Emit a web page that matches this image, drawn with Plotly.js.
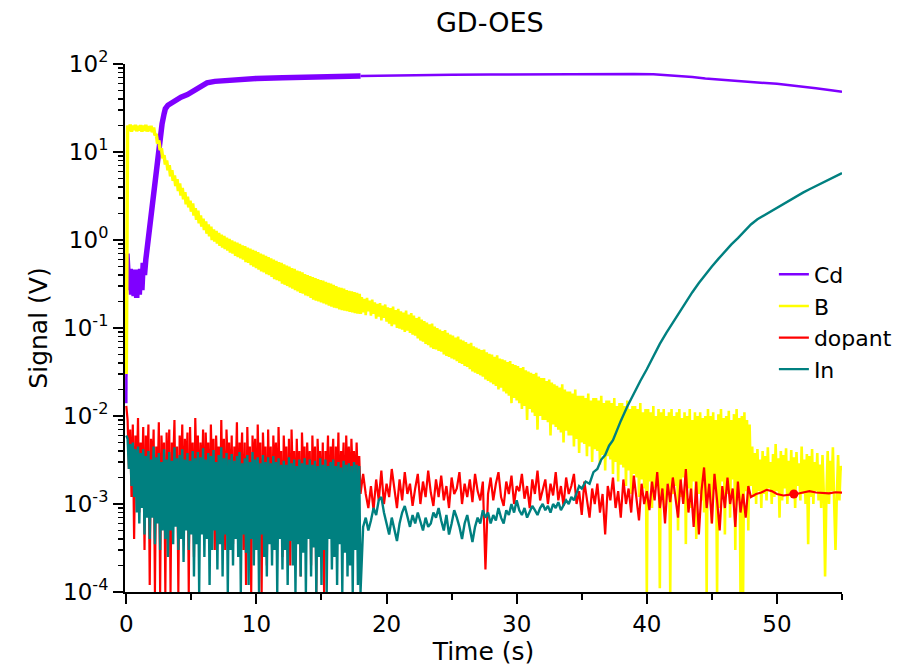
<!DOCTYPE html>
<html>
<head>
<meta charset="utf-8">
<script src="https://cdn.plot.ly/plotly-3.0.1.min.js"></script>
<style>html,body{margin:0;padding:0;background:#fff;}#chart{width:897px;height:671px;}</style>
</head>
<body>
<div id="chart"></div>
<script>
// ---------- sampling times (s) ----------
// fine grid, 0.1 s
const fineT = [0.1,0.2,0.3,0.4,0.5,0.6,0.7,0.8,0.9,1.0,
1.1,1.2,1.3,1.4,1.5,1.6,1.7,1.8,1.9,2.0,
2.1,2.2,2.3,2.4,2.5,2.6,2.7,2.8,2.9,3.0,
3.1,3.2,3.3,3.4,3.5,3.6,3.7,3.8,3.9,4.0,
4.1,4.2,4.3,4.4,4.5,4.6,4.7,4.8,4.9,5.0,
5.1,5.2,5.3,5.4,5.5,5.6,5.7,5.8,5.9,6.0,
6.1,6.2,6.3,6.4,6.5,6.6,6.7,6.8,6.9,7.0,
7.1,7.2,7.3,7.4,7.5,7.6,7.7,7.8,7.9,8.0,
8.1,8.2,8.3,8.4,8.5,8.6,8.7,8.8,8.9,9.0,
9.1,9.2,9.3,9.4,9.5,9.6,9.7,9.8,9.9,10.0,
10.1,10.2,10.3,10.4,10.5,10.6,10.7,10.8,10.9,11.0,
11.1,11.2,11.3,11.4,11.5,11.6,11.7,11.8,11.9,12.0,
12.1,12.2,12.3,12.4,12.5,12.6,12.7,12.8,12.9,13.0,
13.1,13.2,13.3,13.4,13.5,13.6,13.7,13.8,13.9,14.0,
14.1,14.2,14.3,14.4,14.5,14.6,14.7,14.8,14.9,15.0,
15.1,15.2,15.3,15.4,15.5,15.6,15.7,15.8,15.9,16.0,
16.1,16.2,16.3,16.4,16.5,16.6,16.7,16.8,16.9,17.0,
17.1,17.2,17.3,17.4,17.5,17.6,17.7,17.8,17.9,18.0,
18.1,18.2,18.3,18.4,18.5,18.6,18.7,18.8,18.9,19.0,
19.1,19.2,19.3,19.4,19.5,19.6,19.7,19.8,19.9,20.0,
20.1,20.2,20.3,20.4,20.5,20.6,20.7,20.8,20.9,21.0,
21.1,21.2,21.3,21.4,21.5,21.6,21.7,21.8,21.9,22.0,
22.1,22.2,22.3,22.4,22.5,22.6,22.7,22.8,22.9,23.0,
23.1,23.2,23.3,23.4,23.5,23.6,23.7,23.8,23.9,24.0,
24.1,24.2,24.3,24.4,24.5,24.6,24.7,24.8,24.9,25.0,
25.1,25.2,25.3,25.4,25.5,25.6,25.7,25.8,25.9,26.0,
26.1,26.2,26.3,26.4,26.5,26.6,26.7,26.8,26.9,27.0,
27.1,27.2,27.3,27.4,27.5,27.6,27.7,27.8,27.9,28.0,
28.1,28.2,28.3,28.4,28.5,28.6,28.7,28.8,28.9,29.0,
29.1,29.2,29.3,29.4,29.5,29.6,29.7,29.8,29.9,30.0,
30.1,30.2,30.3,30.4,30.5,30.6,30.7,30.8,30.9,31.0,
31.1,31.2,31.3,31.4,31.5,31.6,31.7,31.8,31.9,32.0,
32.1,32.2,32.3,32.4,32.5,32.6,32.7,32.8,32.9,33.0,
33.1,33.2,33.3,33.4,33.5,33.6,33.7,33.8,33.9,34.0,
34.1,34.2,34.3,34.4,34.5,34.6,34.7,34.8,34.9,35.0,
35.1,35.2,35.3,35.4,35.5,35.6,35.7,35.8,35.9,36.0,
36.1,36.2,36.3,36.4,36.5,36.6,36.7,36.8,36.9,37.0,
37.1,37.2,37.3,37.4,37.5,37.6,37.7,37.8,37.9,38.0,
38.1,38.2,38.3,38.4,38.5,38.6,38.7,38.8,38.9,39.0,
39.1,39.2,39.3,39.4,39.5,39.6,39.7,39.8,39.9,40.0,
40.1,40.2,40.3,40.4,40.5,40.6,40.7,40.8,40.9,41.0,
41.1,41.2,41.3,41.4,41.5,41.6,41.7,41.8,41.9,42.0,
42.1,42.2,42.3,42.4,42.5,42.6,42.7,42.8,42.9,43.0,
43.1,43.2,43.3,43.4,43.5,43.6,43.7,43.8,43.9,44.0,
44.1,44.2,44.3,44.4,44.5,44.6,44.7,44.8,44.9,45.0,
45.1,45.2,45.3,45.4,45.5,45.6,45.7,45.8,45.9,46.0,
46.1,46.2,46.3,46.4,46.5,46.6,46.7,46.8,46.9,47.0,
47.1,47.2,47.3,47.4,47.5,47.6,47.7,47.8,47.9,48.0,
48.1,48.2,48.3,48.4,48.5,48.6,48.7,48.8,48.9,49.0,
49.1,49.2,49.3,49.4,49.5,49.6,49.7,49.8,49.9,50.0,
50.1,50.2,50.3,50.4,50.5,50.6,50.7,50.8,50.9,51.0,
51.1,51.2,51.3,51.4,51.5,51.6,51.7,51.8,51.9,52.0,
52.1,52.2,52.3,52.4,52.5,52.6,52.7,52.8,52.9,53.0,
53.1,53.2,53.3,53.4,53.5,53.6,53.7,53.8,53.9,54.0,
54.1,54.2,54.3,54.4,54.5,54.6,54.7,54.8,54.9,55.0];

// coarse grid, 0.2 s (18.2 - 48.0)
const midT = [18.2,18.4,18.6,18.8,19.0,19.2,19.4,19.6,19.8,20.0,
20.2,20.4,20.6,20.8,21.0,21.2,21.4,21.6,21.8,22.0,
22.2,22.4,22.6,22.8,23.0,23.2,23.4,23.6,23.8,24.0,
24.2,24.4,24.6,24.8,25.0,25.2,25.4,25.6,25.8,26.0,
26.2,26.4,26.6,26.8,27.0,27.2,27.4,27.6,27.8,28.0,
28.2,28.4,28.6,28.8,29.0,29.2,29.4,29.6,29.8,30.0,
30.2,30.4,30.6,30.8,31.0,31.2,31.4,31.6,31.8,32.0,
32.2,32.4,32.6,32.8,33.0,33.2,33.4,33.6,33.8,34.0,
34.2,34.4,34.6,34.8,35.0,35.2,35.4,35.6,35.8,36.0,
36.2,36.4,36.6,36.8,37.0,37.2,37.4,37.6,37.8,38.0,
38.2,38.4,38.6,38.8,39.0,39.2,39.4,39.6,39.8,40.0,
40.2,40.4,40.6,40.8,41.0,41.2,41.4,41.6,41.8,42.0,
42.2,42.4,42.6,42.8,43.0,43.2,43.4,43.6,43.8,44.0,
44.2,44.4,44.6,44.8,45.0,45.2,45.4,45.6,45.8,46.0,
46.2,46.4,46.6,46.8,47.0,47.2,47.4,47.6,47.8,48.0];

// ---------- Cd (V) ----------
const cdStartT = [0, 0.05];
const cdStartV = [0.014, 0.7];
const cdDenseT = [0.05,0.1,0.2,0.3,0.4,0.5,0.6,0.7,0.8,0.9,1.0,1.1,1.2,1.3,1.4,1.5,1.6,1.7,1.8,1.9,2.0,2.1,2.2,2.3,2.45,2.6,2.75,2.9,3.0,3.2,3.5,3.8,4.2,4.7,5.2,5.7,6.2,6.8,7.5,8.5,10,12,14,16,18];
const cdDenseV = [0.7,0.55,0.27,0.47,0.24,0.46,0.23,0.45,0.22,0.46,0.24,0.47,0.27,0.55,0.4,0.6,0.8,1.05,1.4,2.0,2.8,3.8,5.0,6.8,10,15,21,27,31,34,36.5,39,42,45,50,56,61,63.5,65,66.5,68.5,70,71,72,73];
const cdLateT = [18,19,20,22,25,28,31,34,37,39,40.5,41.5,42.5,43.5,44.5,45.5,46.5,47.5,48.5,50,51.5,53,54.3,55];
const cdLateV = [73,73.5,74,74.8,75.5,76,76.5,77,77.3,77.2,76.5,75,73,71,68.5,66.5,64.8,63.3,61.8,59.5,56.5,53,50,48.3];

// ---------- B ----------
const bStartT = [0];
const bStartV = [0.03];
// 0.1 - 18.0 s (V)
const bDenseV = [20,17.5,20.5,17,20,17.8,20.3,17.2,19.8,17.5,
20.2,17,19.9,17.4,20.4,17.1,19.6,17.3,19.8,16.8,
19,15.5,16,12.5,13.5,10.5,11,8.5,9.2,7.2,
8,6.2,7.1,5.3,6.2,4.7,5.4,4.1,4.9,3.6,
4.4,3.2,3.9,2.9,3.5,2.55,3.1,2.35,2.8,2.1,
2.6,1.9,2.3,1.7,2.15,1.55,1.9,1.42,1.75,1.3,
1.62,1.18,1.5,1.1,1.42,1.0,1.32,0.96,1.27,0.91,
1.2,0.86,1.15,0.82,1.11,0.79,1.06,0.76,1.03,0.72,
0.99,0.7,0.96,0.66,0.93,0.64,0.9,0.62,0.87,0.6,
0.85,0.56,0.82,0.55,0.8,0.52,0.77,0.5,0.75,0.48,
0.73,0.46,0.7,0.44,0.68,0.43,0.66,0.41,0.64,0.4,
0.62,0.38,0.6,0.36,0.58,0.35,0.56,0.34,0.55,0.32,
0.53,0.31,0.51,0.3,0.5,0.29,0.48,0.28,0.47,0.27,
0.45,0.26,0.44,0.25,0.43,0.245,0.41,0.235,0.4,0.23,
0.39,0.22,0.38,0.21,0.37,0.205,0.36,0.2,0.35,0.195,
0.345,0.19,0.335,0.185,0.325,0.18,0.32,0.175,0.31,0.17,
0.3,0.168,0.29,0.163,0.285,0.16,0.28,0.157,0.27,0.155,
0.265,0.152,0.26,0.15,0.255,0.148,0.25,0.146,0.245,0.145];
// 18.1 - 48.0 s (mV)
const bMid_mV = [225,150,215,140,220,155,205,138,210,145,
195,128,188,135,192,122,180,130,185,118,
172,112,168,105,175,110,160,100,165,98,
155,96,150,90,158,93,142,88,148,84,
138,82,130,76,134,72,125,70,120,66,
115,64,110,60,112,58,104,57,100,55,
96,54,92,50,95,48,88,47,84,45,
82,44,78,42,80,40,74,39,72,37,
69,36,66,34,68,32,62,31,60,30,
58,29,56,28,57,26,53,25,51,24,
50,23,47,22,49,20,45,21,44,19,
43,18,41,17,42,14,39,16,38,15,
37,14,35,12,36,13,33,9,32,12,
31,11,30,10,31,7,28,10,27,9,
27,9,25,8.5,26,6,24,8,23,7.5,
22,7,21,6.5,23,5,20,6.8,19,6,
19,6,18,4.5,20,5.5,17,3.8,17,5,
17,4.8,16,3.5,18,4.5,15,3,16,4.2,
16,4,15,2.8,17,3.6,14,2.4,15,3.5,
15,3.2,14,2.2,16,3,13,1.8,14,2.8,
14,2.6,13,1.6,15,2.4,12,1.3,13,2.2,
13,2,12,1.2,14,1.9,11,1.5,12,0.1,
12,1.8,11,0.9,13,1.5,10,1.9,12,0.11,
11,1.4,12,0.8,10,1.7,11,0.1,12,1.3,
10,1.6,11,0.5,12,1.2,9.5,2.0,11,0.35,
10,1.5,12,0.9,9,1.8,11,0.4,10,1.3,
11,1.1,9.5,0.8,10,0.1,12,1.7,10,0.6,
11,1.5,9,0.1,10.5,0.9,12,1.8,9.5,0.45,
10,1.3,11.5,0.7,9,1.9,10.5,0.3,12,1.1,
9.5,0.1,10,0.1,11,1.4,9,0.5,8,1.6];
// 48.1 - 55.0 s (mV)
const bTail_mV = [4.5,1.2,3.8,1.0,4.2,1.4,3.2,0.9,4.0,1.3,
3.5,1.1,4.4,1.5,3.0,1.0,3.7,1.2,4.8,1.4,
3.3,0.7,4.0,1.1,3.6,1.5,4.3,1.0,3.1,1.3,
4.1,1.2,3.4,0.9,3.9,1.6,2.9,1.1,4.5,1.3,
3.2,1.0,3.7,0.35,3.5,1.2,4.2,1.0,3.0,1.4,
3.8,1.1,2.8,0.9,3.6,1.3,0.15,1.2,4.0,1.0,
3.1,1.4,4.4,1.0,0.3,1.2,3.6,1.1,2.7,2.4];

// ---------- dopant ----------
const dopStart_mV = [13];
// 0.1 - 18.0 s (mV)
const dopDense_mV = [9,2.5,7,1.2,8,0.4,6,2,9.5,0.8,
5,1.5,7.5,0.3,6,2.2,8,0.12,5.5,1.8,
7,0.1,4.5,1.4,8.5,0.1,6,2.4,5,0.1,
6.5,1.1,7,0.1,5,2.6,9,0.6,4.5,0.1,
6,1.9,8,0.5,5.5,2.3,6.5,0.1,7.5,1.6,
5,0.25,9.5,2.1,6,0.8,5,1.3,7,0.4,
6.5,2.5,5,0.4,8,1.7,5.5,0.3,6,2.2,
4.5,0.7,9,1.2,5.5,0.3,7,2.6,5,0.9,
6,0.35,4.5,1.8,8.5,0.5,5,2.4,6.5,0.3,
5,0.12,7.5,1.5,4.5,0.1,6,2.2,5.5,0.4,
8,1.6,5,0.1,6.5,2.3,4.5,0.2,7,1.1,
4.5,0.3,6,2.0,5,0.6,7.5,1.4,4,0.25,
6,2.1,4.5,0.3,5.5,0.2,7,1.8,4,0.5,
5.5,1.3,4,0.15,6.5,2.2,4.5,0.35,5,1.7,
4,0.2,6,1.5,4.5,0.1,5.5,2.0,4,0.7,
5,0.1,4,1.9,6,0.45,4.5,2.3,5.5,0.25,
4.5,1.4,6.5,0.6,4,2.1,5,0.3,6,1.6,
4.5,0.9,5.5,2.0,4,1.2,5,1.6,3.5,1.3];
// 18.2 - 48.0 s (mV)
const dopMid_mV = [2.2,1.3,0.9,1.6,0.85,1.9,1.1,2.4,1.0,1.7,
1.2,2.5,1.4,0.9,1.9,1.1,2.3,1.3,1.7,0.95,
1.5,2.2,1.0,1.8,1.2,2.4,1.35,0.95,1.9,1.2,
2.1,1.1,1.6,0.9,2.0,1.3,1.5,2.3,1.0,1.7,
1.2,1.9,1.05,2.2,1.4,1.1,1.8,0.18,1.3,2.0,
1.1,1.7,2.3,1.2,0.95,1.8,1.3,2.1,1.0,1.6,
1.4,2.2,1.15,1.6,0.9,1.9,1.3,2.4,1.1,1.5,
1.9,1.0,1.7,1.25,2.3,1.1,1.6,0.95,2.0,1.3,
1.6,2.2,1.0,1.4,0.75,1.8,1.1,0.7,1.5,1.0,
1.7,0.8,1.3,0.45,1.6,1.1,2.0,0.9,1.4,0.7,
1.9,1.0,1.5,0.8,2.1,1.2,0.65,1.7,1.0,1.4,
0.85,1.8,1.1,2.3,0.9,1.5,0.6,1.7,1.05,2.0,
1.2,0.7,1.9,1.0,2.5,0.8,1.5,0.55,1.8,0.45,
1.4,2.6,0.9,1.7,0.6,2.2,1.1,0.5,1.6,0.9,
2.0,1.0,1.5,0.55,1.8,0.8,1.3,0.7,1.6,1.2];
const dopTailT = [48.4,48.8,49.2,49.6,50.0,50.5,51.0,51.5,52.0,52.5,53.0,53.5,54.0,54.5,55.0];
const dopTail_mV = [1.3,1.35,1.45,1.4,1.3,1.25,1.28,1.3,1.35,1.4,1.35,1.33,1.32,1.36,1.35];
const dopMarkT = [51.3];
const dopMark_mV = [1.3];

// ---------- In ----------
const inStart_mV = [6];
// 0.1 - 18.0 s (mV)
const inDense_mV = [5.5,2.5,4.8,1.6,5,1.2,4.2,0.8,4.5,0.6,
3.8,0.9,4.2,0.45,3.5,0.7,4,0.4,3.2,0.7,
4.5,0.35,3.4,0.6,3.8,0.3,3,0.5,4.2,0.4,
3.2,0.25,3.9,0.5,3.1,0.35,4.4,0.55,3.3,0.3,
3.6,0.4,4.2,0.22,3.2,0.5,3.8,0.3,3.1,0.45,
4,0.15,3.3,0.35,3.9,0.1,3.4,0.45,4.3,0.25,
3.2,0.4,3.8,0.12,3.5,0.3,4.1,0.5,3,0.18,
3.6,0.35,4.4,0.15,3.3,0.45,3.8,0.1,3.2,0.3,
3.7,0.2,3.1,0.4,3.5,0.25,3.9,0.1,2.9,0.45,
3.3,0.28,3.6,0.12,3.0,0.4,3.9,0.2,3.2,0.3,
3.4,0.1,2.9,0.45,3.6,0.25,3.0,0.15,3.4,0.35,
2.9,0.2,3.5,0.3,3.0,0.1,3.3,0.4,2.8,0.18,
3.1,0.3,2.8,0.12,3.4,0.38,2.9,0.2,3.2,0.1,
2.7,0.35,3.2,0.15,2.9,0.28,3.3,0.1,2.8,0.4,
3.2,0.15,2.8,0.32,3.1,0.1,2.7,0.25,3.3,0.12,
2.8,0.3,3.2,0.1,2.7,0.4,3.0,0.18,3.2,0.25,
2.7,0.12,3.0,0.35,2.6,0.1,3.1,0.28,2.8,0.15,
2.9,0.2,2.7,0.1,3.0,0.3,2.8,0.12,2.7,0.1];
// 18.2 - 35.0 s (mV)
const inMid_mV = [0.55,0.7,0.5,0.65,0.9,0.75,1.1,1.2,0.8,0.6,
0.45,0.7,0.5,0.38,0.6,0.8,0.95,0.7,0.55,0.75,
0.6,0.8,0.65,0.5,0.7,0.55,0.6,0.8,0.7,0.9,
0.65,0.5,0.75,0.45,0.6,0.85,0.7,0.55,0.4,0.6,
0.75,0.5,0.37,0.55,0.7,0.6,0.85,0.7,0.8,0.6,
0.75,0.65,0.9,0.7,0.6,0.85,0.75,1.0,0.8,1.1,
0.85,0.75,0.9,0.7,0.8,0.95,0.85,0.75,0.9,1.0,
0.85,0.95,0.8,1.0,0.9,1.05,0.85,0.95,1.1,1.0,
1.2,1.1,1.35,1.6,1.5];
const inLateT = [35.3,35.6,35.9,36.2,36.5,36.8,37.1,37.4,37.7,38.0,38.5,39,39.5,40,40.5,41,41.5,42,42.5,43,43.5,44,44.5,45,45.5,46,46.5,47,47.5,48,48.5,49,49.5,50,50.5,51,51.5,52,52.5,53,53.5,54,54.5,55];
const inLate_mV = [1.8,1.7,2.3,2.5,3.2,3.6,4.6,5.3,6.9,8.8,12.8,18,25,34,48,66,88,115,151,197,255,324,405,500,610,741,890,1050,1250,1500,1720,1900,2100,2340,2600,2870,3150,3450,3770,4110,4480,4880,5300,5750];

// ---------- tick labels ----------
const yTickVals = [1e-4, 1e-3, 1e-2, 1e-1, 1e0, 1e1, 1e2];
const yTickText = ['10<sup>-4</sup>','10<sup>-3</sup>','10<sup>-2</sup>','10<sup>-1</sup>','10<sup>0</sup>','10<sup>1</sup>','10<sup>2</sup>'];
const yMinorVals = [];
yTickVals.slice(0, -1).forEach(d => { for (let k = 2; k <= 9; k++) yMinorVals.push(d * k); });

// ---------- assemble ----------
const mV = a => a.map(v => v / 1000);
const denseT = fineT.slice(0, 180);
const bMidT = fineT.slice(180, 480);
const bTailT = fineT.slice(480, 550);

const colCd = '#7f00ff', colB = '#ffff00', colDop = '#ff0000', colIn = '#008080';

const traces = [
  {x: cdDenseT, y: cdDenseV, mode: 'lines', line: {color: colCd, width: 5.5}, showlegend: false, legendgroup: 'cd'},
  {x: cdStartT.concat([null], cdLateT), y: cdStartV.concat([null], cdLateV), mode: 'lines', name: 'Cd', legendgroup: 'cd', legendrank: 1,
   line: {color: colCd, width: 2.5}, connectgaps: false},
  {x: bStartT.concat(denseT), y: bStartV.concat(bDenseV), mode: 'lines', showlegend: false, legendgroup: 'b',
   line: {color: colB, width: 3.5}},
  {x: [18.0].concat(bMidT, bTailT), y: [bDenseV[bDenseV.length - 1]].concat(mV(bMid_mV), mV(bTail_mV)), mode: 'lines', name: 'B', legendgroup: 'b', legendrank: 2,
   line: {color: colB, width: 2.6}},
  {x: [0].concat(denseT, midT, dopTailT), y: mV(dopStart_mV.concat(dopDense_mV, dopMid_mV, dopTail_mV)), mode: 'lines', name: 'dopant', legendrank: 3,
   legendgroup: 'dop', line: {color: colDop, width: 2.2}},
  {x: dopMarkT, y: mV(dopMark_mV), mode: 'markers', marker: {color: colDop, size: 9}, showlegend: false, legendgroup: 'dop'},
  {x: [0].concat(denseT, midT.slice(0, inMid_mV.length), inLateT), y: mV(inStart_mV.concat(inDense_mV, inMid_mV, inLate_mV)), mode: 'lines', name: 'In', legendrank: 4,
   line: {color: colIn, width: 2.4}}
];

const fam = 'DejaVu Sans, Liberation Sans, Arial, sans-serif';
const F = s => ({family: fam, size: s, color: '#000'});

const layout = {
  width: 897, height: 671,
  margin: {l: 125, r: 55, t: 64, b: 79, autoexpand: false},
  paper_bgcolor: '#fff', plot_bgcolor: '#fff',
  font: F(22),
  title: {text: 'GD-OES', font: F(27), x: 0.546, xref: 'container', xanchor: 'center', y: 0.967, yref: 'container', yanchor: 'middle'},
  showlegend: true,
  legend: {x: 0.905, y: 0.641, xanchor: 'left', yanchor: 'top', bgcolor: 'rgba(0,0,0,0)', font: F(22), tracegroupgap: 0, itemwidth: 30},
  xaxis: {
    range: [-0.1, 55], dtick: 10, tick0: 0,
    showline: true, linecolor: '#000', linewidth: 2,
    ticks: 'outside', ticklen: 10, tickwidth: 2, tickcolor: '#000',
    minor: {dtick: 5, tick0: 0, ticks: 'outside', ticklen: 6, tickwidth: 2, tickcolor: '#000', showgrid: false},
    showgrid: false, zeroline: false, automargin: false,
    tickfont: F(23),
    title: {text: 'Time (s)', font: F(25), standoff: 6}
  },
  yaxis: {
    type: 'log', range: [-4, 2],
    tickmode: 'array', tickvals: yTickVals, ticktext: yTickText,
    showline: true, linecolor: '#000', linewidth: 2,
    ticks: 'outside', ticklen: 10, tickwidth: 2, tickcolor: '#000',
    minor: {tickmode: 'array', tickvals: yMinorVals, ticks: 'outside', ticklen: 5, tickwidth: 1.5, tickcolor: '#000', showgrid: false},
    showgrid: false, zeroline: false, automargin: false,
    tickfont: F(23),
    title: {text: 'Signal (V)', font: F(25), standoff: 8}
  }
};

Plotly.newPlot('chart', traces, layout, {staticPlot: true, displayModeBar: false});
</script>
</body>
</html>
